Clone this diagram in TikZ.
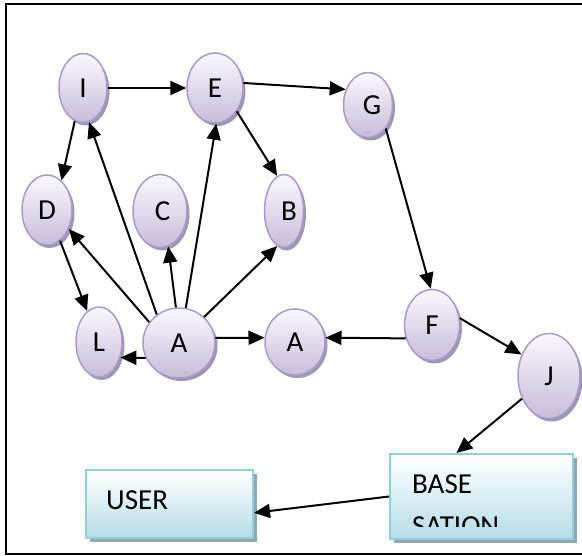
\documentclass[tikz,border=0pt]{standalone}
\usepackage{fontspec}
\setmainfont{Carlito}
\usetikzlibrary{arrows.meta,shapes.geometric,shadows}
\definecolor{vertborder}{HTML}{A99BC9}
\definecolor{vtop}{HTML}{F9F8FC}
\definecolor{vbot}{HTML}{C7BCDA}
\definecolor{vshadow}{HTML}{9E95B3}
\definecolor{boxborder}{HTML}{93CDDC}
\definecolor{boxbot}{HTML}{B5DCE6}
\definecolor{boxshadow}{HTML}{8FA8AE}
\begin{document}
\begin{tikzpicture}[x=1pt,y=-1pt,
  vert/.style={ellipse, draw=vertborder, line width=1.5pt, top color=vtop,
    bottom color=vbot, inner sep=0pt, font=\fontsize{29}{34}\selectfont,
    drop shadow={shadow xshift=2.5pt, shadow yshift=-3pt, fill=vshadow, opacity=1}},
  station/.style={rectangle, draw=boxborder, line width=2pt, top color=white,
    bottom color=boxbot,
    drop shadow={shadow xshift=4pt, shadow yshift=-4pt, fill=boxshadow, opacity=1}},
  boxtext/.style={inner sep=0pt, font=\fontsize{29}{34}\selectfont},
  arr/.style={line width=2pt, -{Triangle[length=16pt, width=14pt]}}
]
\useasboundingbox (0,0) rectangle (582,556);

% outer frame
\draw[line width=2pt] (583,4) -- (6,4) -- (6,554) -- (583,554);

% vertices
\node[vert, minimum width=48pt, minimum height=69pt] (I) at (83,88) {I};
\node[vert, minimum width=56pt, minimum height=70pt] (E) at (215,88) {E};
\node[vert, minimum width=49pt, minimum height=65pt] (G) at (368,105) {\hspace*{8pt}G};
\node[vert, minimum width=50pt, minimum height=70pt] (D) at (47,210) {D};
\node[vert, minimum width=54pt, minimum height=73pt] (C) at (160,211) {\hspace*{5pt}C};
\node[vert, minimum width=39pt, minimum height=73pt] (B) at (284,211) {\hspace*{10pt}B};
\node[vert, minimum width=46pt, minimum height=70pt] (L) at (99,342) {L};
\node[vert, minimum width=72pt, minimum height=70pt] (A) at (179,343) {A};
\node[vert, minimum width=60pt, minimum height=66pt] (A2) at (295,342) {A};
\node[vert, minimum width=55pt, minimum height=71pt] (F) at (432,325) {F};
\node[vert, minimum width=62pt, minimum height=85pt] (J) at (549,376) {J};

% stations
\node[station, minimum width=183pt, minimum height=85pt] (bs) at (481.5,496.5) {};
\node[station, minimum width=167pt, minimum height=68pt] (user) at (169.5,504) {};
\node[boxtext, anchor=base west] (usertext) at (106,510) {USER};
\begin{scope}
  \clip (390,454) rectangle (573,527);
  \node[boxtext, anchor=base west] (bstextA) at (412,494) {BASE};
  \node[boxtext, anchor=base west] (bstextB) at (412,536) {SATION};
\end{scope}

% connectors
\draw[arr] (I) -- (E);
\draw[arr] (I.256) -- (D.64);
\draw[arr] (A.128) -- (I.-80);
\draw[arr] (A.145) -- (D.-41);
\draw[arr] (A.95) -- (C.-77);
\draw[arr] (A.79) -- (E.-88);
\draw[arr] (A.46) -- (B.259);
\draw[arr] (A.204) -- (L.-36);
\draw[arr] (A.8) -- (A2.172);
\draw[arr] (D.-67) -- (L.111);
\draw[arr] (E.10) -- (G.145);
\draw[arr] (E.-47) -- (B.101);
\draw[arr] (G.-53) -- (F.92);
\draw[arr] (F.207) -- (A2.8);
\draw[arr] (F.14) -- (J.142);
\draw[arr] (J.220) -- (bs.120);
\draw[arr] (bs.west) -- (user.-6);
\end{tikzpicture}
\end{document}
